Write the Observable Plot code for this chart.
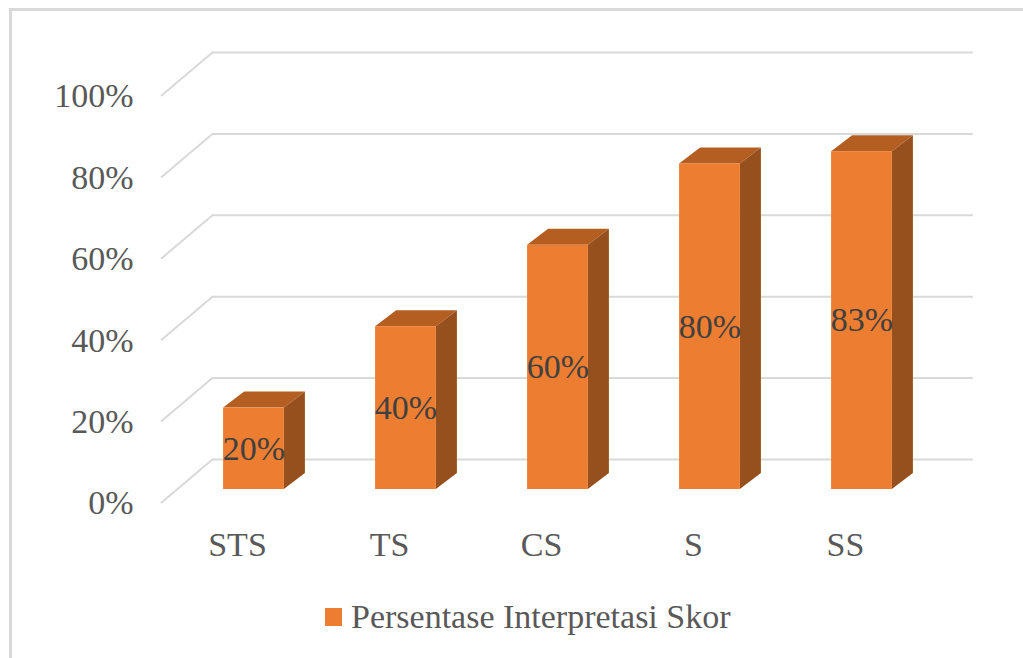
<!DOCTYPE html>
<html>
<head>
<meta charset="utf-8">
<script src="https://cdn.jsdelivr.net/npm/d3@7"></script>
<script src="https://cdn.jsdelivr.net/npm/@observablehq/plot@0.6"></script>
<style>
  html, body { margin: 0; padding: 0; background: #fff; }
  #wrap { position: relative; width: 1023px; height: 658px; overflow: hidden; font-family: "Liberation Serif", "Times New Roman", serif; }
  #frame { position: absolute; left: 9px; top: 8px; right: -10px; bottom: -10px; border-top: 3px solid #d9d9d9; border-left: 3px solid #d9d9d9; }
  #chart { position: absolute; left: 0; top: 0; }
  #legend { position: absolute; left: 325px; top: 598px; display: flex; align-items: center; color: #595959; font-size: 34px; white-space: nowrap; }
  #legend .sw { width: 17px; height: 18px; background: #ED7D31; margin-right: 9px; }
</style>
</head>
<body>
<div id="wrap">
  <div id="frame"></div>
  <div id="chart"></div>
  <div id="legend"><span class="sw"></span><span id="legend-label"></span></div>
</div>
<script>
// ---- data ----
const categories = ["STS", "TS", "CS", "S", "SS"];
const values = [0.20, 0.40, 0.60, 0.80, 0.83];
const valueLabels = ["20%", "40%", "60%", "80%", "83%"];
const yTicks = [0, 0.2, 0.4, 0.6, 0.8, 1.0];
const seriesName = "Persentase Interpretasi Skor";

const data = categories.map((c, i) => ({category: c, value: values[i], label: valueLabels[i]}));

// ---- style / 3D projection constants ----
const FRONT = "#ED7D31", TOP = "#B55E22", SIDE = "#96501D", GRID = "#d9d9d9";
const BAR_INSET = 45.6;          // band inset of each bar's front face
const BAR_DX = 16.5, BAR_DY = -14; // bar depth position relative to front plane
const DEPTH_X = 21, DEPTH_Y = -16; // bar depth extrusion
const WALL_DX = 52, WALL_DY = -44; // back wall offset

// gridline diagonals on the side wall
function wallDiagonals(index, scales) {
  const {x, y} = scales;
  const x0 = x(categories[0]);
  const g = d3.create("svg:g").attr("stroke", GRID).attr("stroke-width", 2).attr("fill", "none");
  for (const t of yTicks) {
    g.append("line")
      .attr("x1", x0).attr("y1", y(t))
      .attr("x2", x0 + WALL_DX).attr("y2", y(t) + WALL_DY);
  }
  return g.node();
}

// top and side faces of the 3D bars
function barFaces(index, scales) {
  const {x, y} = scales;
  const bw = x.bandwidth();
  const g = d3.create("svg:g");
  for (const d of data) {
    const xl = x(d.category) + BAR_INSET + BAR_DX;
    const xr = x(d.category) + bw - BAR_INSET + BAR_DX;
    const yt = y(d.value) + BAR_DY;
    const yb = y(0) + BAR_DY;
    g.append("polygon").attr("fill", TOP)
      .attr("points", [[xl, yt], [xr, yt], [xr + DEPTH_X, yt + DEPTH_Y], [xl + DEPTH_X, yt + DEPTH_Y]].join(" "));
    g.append("polygon").attr("fill", SIDE)
      .attr("points", [[xr, yt], [xr + DEPTH_X, yt + DEPTH_Y], [xr + DEPTH_X, yb + DEPTH_Y], [xr, yb]].join(" "));
  }
  return g.node();
}

const chart = Plot.plot({
  width: 1023,
  height: 580,
  marginLeft: 160,
  marginRight: 102,
  marginTop: 96,
  marginBottom: 77,
  style: {fontFamily: "Liberation Serif, Times New Roman, serif", fontSize: "34px", color: "#595959", background: "transparent"},
  x: {domain: categories, padding: 0, tickSize: 0, tickPadding: 28, label: null},
  y: {domain: [0, 1], ticks: yTicks, tickFormat: d3.format(".0%"), tickSize: 0, tickPadding: 27, label: null},
  marks: [
    Plot.ruleY(yTicks, {stroke: GRID, strokeWidth: 2, dx: WALL_DX, dy: WALL_DY}),
    wallDiagonals,
    barFaces,
    Plot.barY(data, {x: "category", y: "value", fill: FRONT, insetLeft: BAR_INSET, insetRight: BAR_INSET, dx: BAR_DX, dy: BAR_DY}),
    Plot.text(data, {x: "category", y: d => d.value / 2, text: "label", fill: "#404040", fontSize: 34, dx: BAR_DX, dy: BAR_DY})
  ]
});
document.getElementById("chart").appendChild(chart);
document.getElementById("legend-label").textContent = seriesName;
</script>
</body>
</html>
